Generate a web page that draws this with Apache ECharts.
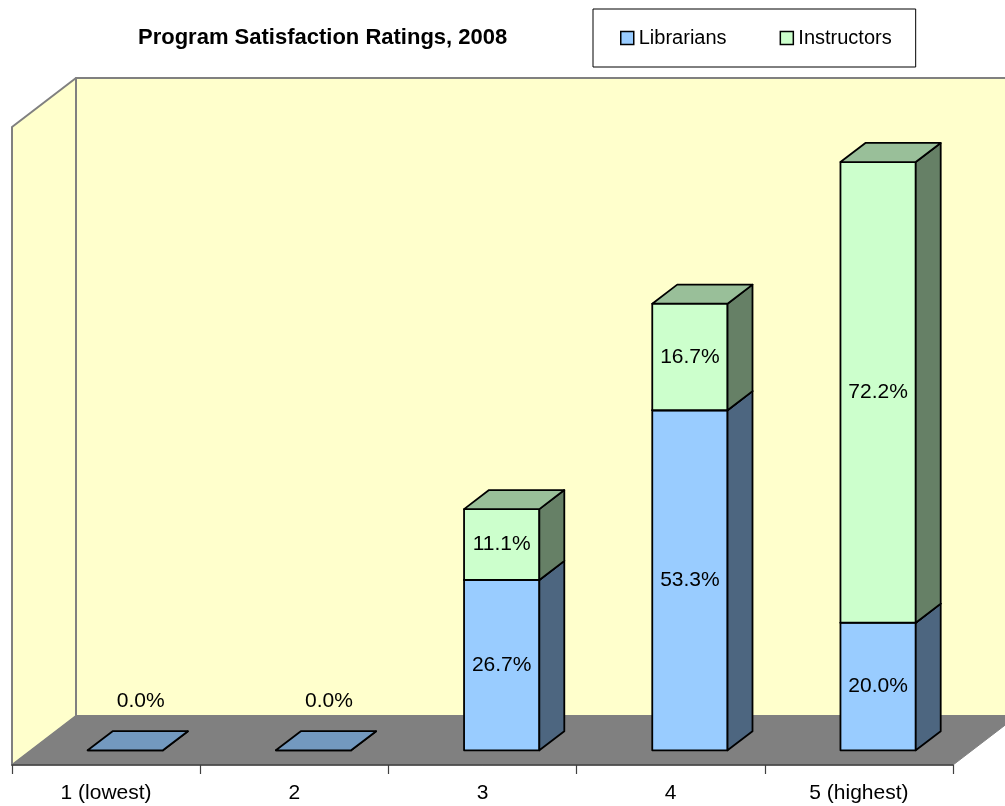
<!DOCTYPE html>
<html>
<head>
<meta charset="utf-8">
<script src="https://cdn.jsdelivr.net/npm/echarts@6/dist/echarts.min.js"></script>
<style>
html,body{margin:0;padding:0;background:#fff;}
#chart{width:1005px;height:806px;}
</style>
</head>
<body>
<div id="chart"></div>
<script>
// ---- data ----
var categories = ['1 (lowest)', '2', '3', '4', '5 (highest)'];
var librarians = [0.0, 0.0, 26.7, 53.3, 20.0];
var instructors = [0, 0, 11.1, 16.7, 72.2];
var seriesNames = ['Librarians', 'Instructors'];
var titleText = 'Program Satisfaction Ratings, 2008';

// ---- styling / 3D geometry ----
var FONT = 'Liberation Sans, Arial, sans-serif';
var DX = 64, DY = -49;          // wall depth offset
var F0 = 0.30, F1 = 0.69;       // bar depth fractions
var BAR_RATIO = 0.40;
var COLORS = {
  Librarians: { front: '#99ccff', top: '#7399bf', side: '#4d6680' },
  Instructors: { front: '#ccffcc', top: '#99bf99', side: '#668066' }
};

function barData(values, bases) {
  return values.map(function (v, i) { return [i, bases ? bases[i] : 0, v]; });
}

function makeRenderBar(colors, showZeroLabel) {
  return function (params, api) {
    var cat = api.value(0), base = api.value(1), val = api.value(2);
    var p0 = api.coord([cat, base]);
    var p1 = api.coord([cat, base + val]);
    var bw = api.size([1, 0])[0] * BAR_RATIO;
    var fx = DX * F0, fy = DY * F0;
    var bx = DX * (F1 - F0), by = DY * (F1 - F0);
    var xl = p0[0] - bw / 2 + fx, xr = xl + bw;
    var yb = p0[1] + fy, yt = p1[1] + fy;
    var stroke = { stroke: '#000', lineWidth: 1.8, lineJoin: 'round' };
    var children = [];
    if (val === 0 && !showZeroLabel) return { type: 'group', children: [] };
    children.push({ type: 'polygon', shape: { points: [[xl, yb], [xr, yb], [xr, yt], [xl, yt]] },
      style: Object.assign({ fill: colors.front }, stroke) });
    children.push({ type: 'polygon', shape: { points: [[xr, yb], [xr + bx, yb + by], [xr + bx, yt + by], [xr, yt]] },
      style: Object.assign({ fill: colors.side }, stroke) });
    children.push({ type: 'polygon', shape: { points: [[xl, yt], [xr, yt], [xr + bx, yt + by], [xl + bx, yt + by]] },
      style: Object.assign({ fill: colors.top }, stroke) });
    var lx, ly;
    if (val === 0) { lx = (xl + xr) / 2 + bx / 2 + 3; ly = yb - 49; }
    else { lx = (xl + xr) / 2; ly = (yb + yt) / 2; }
    children.push({ type: 'text', style: { text: val.toFixed(1) + '%', x: lx, y: ly,
      align: 'center', verticalAlign: 'middle', fontSize: 21, fontFamily: FONT, fill: '#000' } });
    return { type: 'group', children: children };
  };
}

function renderWalls(params, api) {
  var c0 = api.coord([0, 0]);
  var bwFull = api.size([1, 0])[0];
  var L = c0[0] - bwFull / 2;
  var R = api.coord([categories.length - 1, 0])[0] + bwFull / 2;
  var B = c0[1];
  var T = api.coord([0, 100])[1];
  var wallStyle = { fill: '#ffffcc', stroke: '#808080', lineWidth: 2, lineJoin: 'round' };
  return { type: 'group', children: [
    { type: 'polygon', shape: { points: [[L + DX, T + DY], [R + DX + 20, T + DY], [R + DX + 20, B + DY], [L + DX, B + DY]] }, style: wallStyle },
    { type: 'polygon', shape: { points: [[L, T], [L + DX, T + DY], [L + DX, B + DY], [L, B]] }, style: wallStyle },
    { type: 'polygon', shape: { points: [[L, B], [L + DX, B + DY], [R + DX, B + DY], [R, B]] },
      style: { fill: '#808080', stroke: '#808080', lineWidth: 1 } }
  ] };
}

var libBases = librarians.map(function () { return 0; });
var insBases = librarians.slice();

var chart = echarts.init(document.getElementById('chart'), null, { renderer: 'canvas' });
chart.setOption({
  animation: false,
  backgroundColor: '#ffffff',
  title: {
    text: titleText, left: 138, top: 27, padding: 0,
    textStyle: { fontFamily: FONT, fontSize: 22, fontWeight: 'bold', color: '#000' }
  },
  legend: {
    data: seriesNames.map(function (n) {
      return { name: n, icon: 'rect', itemStyle: { color: COLORS[n].front, borderColor: '#000', borderWidth: 1.5 } };
    }),
    left: 593, top: 9, padding: [19, 24, 19, 27],
    itemWidth: 13, itemHeight: 13, itemGap: 53,
    borderColor: '#000', borderWidth: 1, backgroundColor: '#fff',
    textStyle: { fontFamily: FONT, fontSize: 20, color: '#000' },
    selectedMode: false
  },
  grid: { left: 12, right: 52, top: 127, bottom: 41, containLabel: false },
  xAxis: {
    type: 'category', data: categories, z: 5,
    axisLine: { show: true, lineStyle: { color: '#404040', width: 1.5 } },
    axisTick: { show: true, length: 9, lineStyle: { color: '#404040', width: 1.2 } },
    axisLabel: { margin: 18, fontFamily: FONT, fontSize: 21, color: '#000' },
    splitLine: { show: false }
  },
  yAxis: {
    type: 'value', min: 0, max: 100, interval: 20, show: false, splitLine: { show: false }
  },
  series: [
    { type: 'custom', name: '_walls', silent: true, z: 1, renderItem: renderWalls, data: [[0, 0]],
      clip: false },
    { type: 'custom', name: 'Librarians', z: 2, renderItem: makeRenderBar(COLORS.Librarians, true),
      itemStyle: { color: COLORS.Librarians.front }, data: barData(librarians, libBases),
      encode: { x: 0, y: 2 }, clip: false },
    { type: 'custom', name: 'Instructors', z: 3, renderItem: makeRenderBar(COLORS.Instructors, false),
      itemStyle: { color: COLORS.Instructors.front }, data: barData(instructors, insBases),
      encode: { x: 0, y: 2 }, clip: false }
  ]
});
</script>
</body>
</html>
